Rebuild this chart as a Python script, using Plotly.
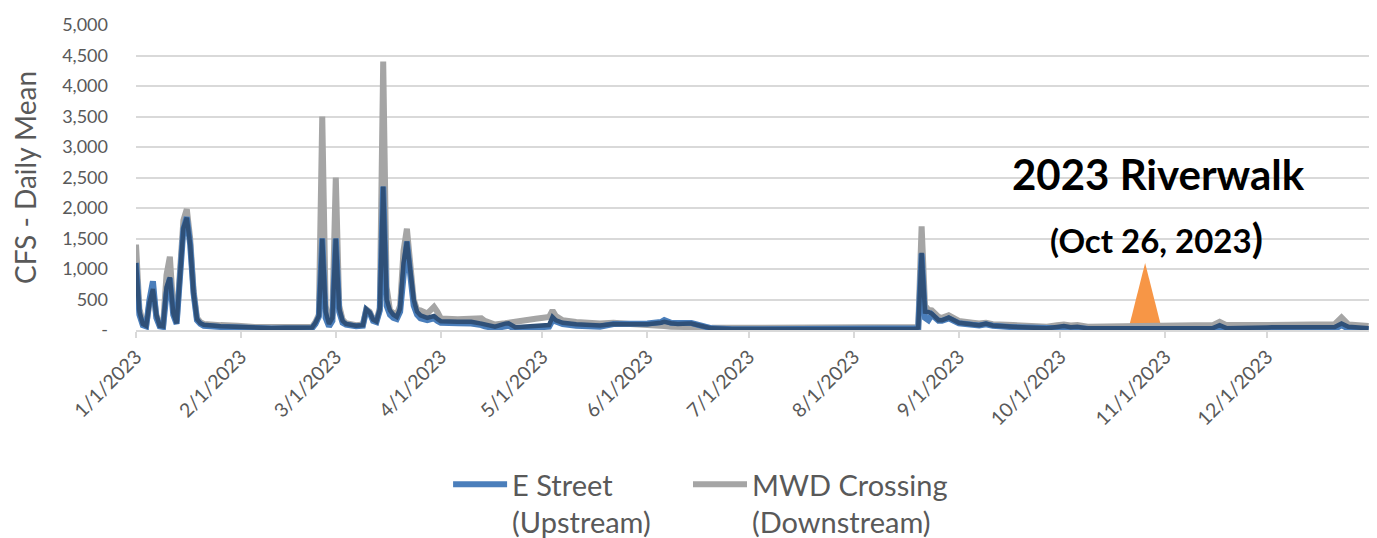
import pandas as pd
import plotly.graph_objects as go

# ---- data (day-of-year offsets from 1/1/2023, daily-mean CFS) ----
day_offsets = [0, 1, 2, 3, 4, 5, 6, 7, 8, 9, 10, 11, 12, 13, 14, 15, 16, 17, 18, 19, 20, 25, 29, 30,
               35, 40, 44, 45, 50, 52, 53, 54, 55, 56, 57, 58, 59, 60, 61, 62, 65, 67, 68, 69, 70, 71,
               72, 73, 74, 75, 76, 77, 78, 79, 80, 81, 82, 83, 84, 86, 88, 89, 90, 95, 99, 102, 103,
               106, 109, 110, 112, 115, 118, 122, 123, 124, 126, 130, 137, 141, 146, 151, 155, 156,
               158, 160, 163, 164, 167, 170, 176, 190, 210, 230, 231, 232, 233, 234, 235, 237, 238,
               240, 243, 247, 249, 251, 253, 259, 264, 269, 272, 274, 276, 278, 281, 290, 300, 310,
               318, 320, 322, 334, 345, 354, 356, 358, 364]

e_street = [1100, 250, 80, 60, 500, 800, 200, 60, 50, 600, 850, 250, 100, 900, 1650, 1850, 1400, 600,
            160, 100, 70, 50, 40, 35, 25, 25, 25, 25, 20, 30, 100, 220, 1500, 200, 60, 150, 1500, 300,
            120, 90, 60, 70, 330, 280, 150, 130, 320, 2350, 400, 250, 200, 180, 300, 1000, 1450, 900,
            400, 250, 190, 160, 190, 150, 120, 110, 107, 80, 60, 27, 60, 70, 15, 20, 40, 55, 160, 130,
            97, 70, 53, 97, 90, 107, 130, 161, 118, 110, 118, 115, 70, 27, 11, 10, 10, 10, 30, 1250,
            200, 160, 250, 150, 150, 190, 110, 85, 75, 95, 70, 45, 35, 20, 30, 37, 30, 40, 20, 15, 8,
            6, 8, 53, 8, 10, 12, 15, 80, 20, 10]

e_street_overlay = [1100, 300, 100, 70, 450, 670, 250, 70, 60, 700, 860, 280, 110, 950, 1670, 1840,
                    1400, 600, 180, 110, 85, 60, 50, 45, 35, 30, 35, 35, 25, 40, 120, 230, 1500, 300,
                    100, 200, 1500, 350, 150, 100, 70, 80, 340, 290, 170, 140, 340, 2350, 500, 320,
                    250, 215, 350, 1100, 1450, 1000, 500, 300, 240, 200, 230, 180, 145, 135, 134, 105,
                    90, 55, 105, 110, 45, 50, 65, 80, 215, 160, 118, 95, 75, 97, 95, 95, 120, 134, 110,
                    100, 107, 105, 65, 27, 15, 15, 15, 20, 40, 1263, 300, 296, 269, 161, 160, 204, 118,
                    95, 80, 107, 75, 53, 40, 27, 50, 65, 45, 53, 27, 25, 25, 27, 30, 80, 30, 43, 45, 50,
                    107, 53, 27]

mwd_crossing = [1400, 350, 120, 80, 450, 650, 250, 80, 70, 900, 1200, 350, 140, 1000, 1800, 1980, 1500,
                650, 200, 130, 100, 80, 80, 70, 50, 45, 60, 60, 40, 50, 130, 250, 3500, 400, 120, 250,
                2500, 400, 170, 110, 80, 90, 340, 300, 180, 150, 360, 4400, 700, 320, 280, 250, 400,
                1300, 1660, 1100, 500, 330, 320, 270, 380, 300, 190, 175, 172, 190, 150, 90, 110, 115,
                135, 160, 185, 215, 320, 230, 160, 130, 107, 118, 100, 91, 80, 65, 53, 55, 65, 62, 45,
                35, 37, 40, 40, 43, 50, 1700, 400, 330, 322, 215, 200, 242, 150, 120, 107, 120, 95, 80,
                65, 53, 80, 91, 75, 80, 53, 60, 70, 75, 80, 134, 80, 80, 85, 95, 204, 91, 65]

riverwalk_offsets = [293, 298, 303]      # Oct 21 - Oct 26 - Oct 31
riverwalk_values = [0, 1100, 0]

tick_dates = ["2023-01-01", "2023-02-01", "2023-03-01", "2023-04-01", "2023-05-01", "2023-06-01",
              "2023-07-01", "2023-08-01", "2023-09-01", "2023-10-01", "2023-11-01", "2023-12-01",
              "2024-01-01"]
tick_labels = ["1/1/2023", "2/1/2023", "3/1/2023", "4/1/2023", "5/1/2023", "6/1/2023", "7/1/2023",
               "8/1/2023", "9/1/2023", "10/1/2023", "11/1/2023", "12/1/2023", ""]
y_tickvals = [0, 500, 1000, 1500, 2000, 2500, 3000, 3500, 4000, 4500, 5000]
y_ticktext = ["-", "500", "1,000", "1,500", "2,000", "2,500", "3,000", "3,500", "4,000", "4,500", "5,000"]

assert len(day_offsets) == len(e_street) == len(e_street_overlay) == len(mwd_crossing)

start = pd.Timestamp("2023-01-01")
dates = [start + pd.Timedelta(days=d) for d in day_offsets]
rw_dates = [start + pd.Timedelta(days=d) for d in riverwalk_offsets]

FONT = "Lato, 'Open Sans', sans-serif"
GREY_TXT = "#595959"

fig = go.Figure()
fig.add_trace(go.Scatter(x=rw_dates, y=riverwalk_values, mode="lines", fill="toself",
                         fillcolor="#F79646", line=dict(width=0, color="#F79646"),
                         showlegend=False, hoverinfo="skip"))
fig.add_trace(go.Scatter(x=dates, y=mwd_crossing, mode="lines",
                         name="MWD Crossing<br>(Downstream)", legend="legend2",
                         line=dict(color="#A5A5A5", width=6)))
fig.add_trace(go.Scatter(x=dates, y=e_street, mode="lines",
                         name="E Street<br>(Upstream)", legend="legend",
                         line=dict(color="#4A7EBB", width=6)))
fig.add_trace(go.Scatter(x=dates, y=e_street_overlay, mode="lines",
                         name="E Street overlay", showlegend=False,
                         line=dict(color="#2F5078", width=4.5)))

legend_style = dict(orientation="h", xanchor="left", y=-0.4226, yanchor="top",
                    font=dict(size=29, color=GREY_TXT), valign="top", itemwidth=54,
                    bgcolor="rgba(0,0,0,0)")

# page body has an 8px margin: figure is placed at (8, 8); figure is taller than the
# viewport so the two-line legend never forces the plot area to shrink.
fig.update_layout(
    width=1369, height=560,
    margin=dict(l=128, r=5, t=12, b=238),
    paper_bgcolor="white", plot_bgcolor="white",
    font=dict(family=FONT, color=GREY_TXT),
    showlegend=True,
    legend=dict(x=0.2525, **legend_style),
    legend2=dict(x=0.4466, **legend_style),
    xaxis=dict(type="date", range=["2023-01-01", "2024-01-01"],
               tickvals=tick_dates, ticktext=tick_labels, tickangle=-45,
               tickfont=dict(size=19.5, color=GREY_TXT),
               ticks="outside", ticklen=6, tickcolor="#D9D9D9", tickwidth=1.5,
               showline=True, linecolor="#D9D9D9", linewidth=1.5,
               showgrid=False, zeroline=False),
    yaxis=dict(range=[0, 5000], tickvals=y_tickvals, ticktext=y_ticktext,
               tickfont=dict(size=18, color=GREY_TXT),
               ticklabelstandoff=27,
               showgrid=True, gridcolor="#D9D9D9", gridwidth=1.5,
               zeroline=False, showline=False,
               title=dict(text="CFS - Daily Mean", font=dict(size=28, color=GREY_TXT), standoff=18)),
    annotations=[
        dict(x="2023-10-30", y=2550, xref="x", yref="y", text="<b>2023 Riverwalk</b>",
             showarrow=False, font=dict(size=42, color="black", family=FONT)),
        dict(x="2023-10-29 12:00", y=1520, xref="x", yref="y",
             text="<b>(Oct 26, 2023</b><span style='font-size:41px'><b>)</b></span>",
             showarrow=False, font=dict(size=33, color="black", family=FONT)),
    ],
)

fig.write_html("out.html")
